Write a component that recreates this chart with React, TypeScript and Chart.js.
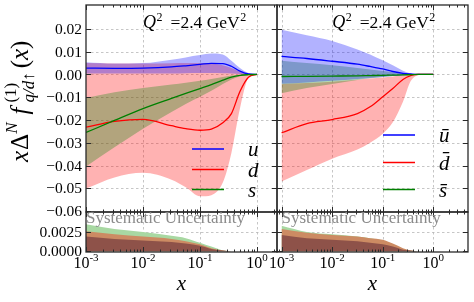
import React, { useEffect, useRef } from 'react';
import { Chart, registerables } from 'chart.js';

Chart.register(...registerables);

const SERIF = '"Liberation Serif", "DejaVu Serif", "Times New Roman", serif';
const W = 474;
const H = 302;

// ---------- data ----------
const X = [0.001, 0.00316, 0.01, 0.0316, 0.0562, 0.1, 0.158, 0.251, 0.355, 0.501, 0.708, 1.0];

// left panel: u, d, s (central value, upper and lower band)
const uMid = [0.0028, 0.0027, 0.0028, 0.0033, 0.0038, 0.0044, 0.0049, 0.0048, 0.0036, 0.0015, 0.0002, 0];
const uHi = [0.0054, 0.0048, 0.005, 0.0065, 0.0075, 0.0085, 0.0092, 0.0088, 0.006, 0.0028, 0.0006, 0];
const uLo = [0.0004, 0.0004, 0.0004, 0.0004, 0.0005, 0.0006, 0.0006, 0.0005, 0.0004, 0.0002, 0.0001, 0];
const dMid = [-0.0231, -0.0206, -0.0197, -0.0225, -0.0238, -0.0245, -0.024, -0.0212, -0.0172, -0.0075, -0.0012, 0];
const dHi = [0.005, 0.0048, 0.0048, 0.0049, 0.005, 0.005, 0.0048, 0.004, 0.0028, 0.0012, 0.0003, 0];
const dLo = [-0.0501, -0.0452, -0.0432, -0.0462, -0.0495, -0.0535, -0.053, -0.0475, -0.0345, -0.015, -0.0015, 0];
const sMid = [-0.0255, -0.0202, -0.015, -0.0105, -0.0083, -0.0062, -0.0045, -0.0025, -0.0012, -0.0004, -0.0001, 0];
const sHi = [-0.0103, -0.0078, -0.006, -0.0044, -0.0036, -0.0028, -0.002, -0.0011, -0.0005, -0.0002, 0, 0];
const sLo = [-0.0404, -0.032, -0.0238, -0.0165, -0.013, -0.0098, -0.0072, -0.0042, -0.0022, -0.0008, -0.0002, 0];

// right panel: ubar, dbar, sbar
const ubMid = [0.0079, 0.007, 0.0058, 0.0045, 0.0035, 0.0024, 0.0013, 0.0005, 0.0002, 0, 0, 0];
const ubHi = [0.0196, 0.0172, 0.0147, 0.011, 0.0088, 0.0062, 0.004, 0.0016, 0.0004, 0.0001, 0, 0];
const ubLo = [-0.0041, -0.0035, -0.0028, -0.002, -0.0016, -0.0011, -0.0007, -0.0003, -0.0001, 0, 0, 0];
const dbMid = [-0.0256, -0.0216, -0.0198, -0.0172, -0.0142, -0.0098, -0.0062, -0.0022, -0.0005, 0, 0, 0];
const dbHi = [-0.0042, -0.0038, -0.0032, -0.0023, -0.0018, -0.0013, -0.0009, -0.0004, -0.0001, 0, 0, 0];
const dbLo = [-0.047, -0.042, -0.037, -0.033, -0.03, -0.026, -0.021, -0.012, -0.003, -0.0003, 0, 0];
const sbMid = [-0.0009, -0.0008, -0.0007, -0.0006, -0.0005, -0.0004, -0.0003, -0.0002, -0.0001, 0, 0, 0];
const sbHi = [0.006, 0.005, 0.004, 0.0028, 0.0022, 0.0015, 0.001, 0.0004, 0.0001, 0, 0, 0];
const sbLo = [-0.0082, -0.006, -0.0042, -0.0024, -0.0017, -0.0011, -0.0007, -0.0003, -0.0001, 0, 0, 0];

// systematic uncertainty panels
const sysLs = [0.0035, 0.0029, 0.0025, 0.002, 0.0017, 0.0011, 0.0006, 0.0001, 0, 0, 0, 0];
const sysLd = [0.0026, 0.0022, 0.0019, 0.0016, 0.0013, 0.0009, 0.0004, 0.0001, 0, 0, 0, 0];
const sysLu = [0.0019, 0.0016, 0.0014, 0.0012, 0.001, 0.0007, 0.0003, 0.0001, 0, 0, 0, 0];
const sysRs = [0.0033, 0.0025, 0.0022, 0.0019, 0.0017, 0.0014, 0.0009, 0.0003, 0.0001, 0, 0, 0];
const sysRd = [0.0029, 0.0024, 0.0021, 0.0019, 0.0017, 0.0015, 0.001, 0.0004, 0.0001, 0, 0, 0];
const sysRu = [0.0021, 0.0017, 0.0015, 0.0013, 0.0011, 0.0009, 0.0006, 0.0002, 0.0001, 0, 0, 0];

// ticks / labels
const Y_MAIN_TICKS = [-0.06, -0.05, -0.04, -0.03, -0.02, -0.01, 0, 0.01, 0.02];
const Y_SYS_TICKS = [0, 0.0025];
const X_MAJOR = [1e-3, 1e-2, 1e-1, 1];
const X_EXP = ['-3', '-2', '-1', '0'];
const LEGEND_L = ['u', 'd', 's'];
const LEGEND_R = ['\u016B', 'd\u0304', 's\u0304'];
const COLORS = ['#0000ff', '#ff0000', '#008000'];
const BAND_COLORS = ['rgba(0,0,255,0.3)', 'rgba(255,0,0,0.3)', 'rgba(0,128,0,0.3)'];
const SYS_COLORS = ['#a8d8a2', '#cc8b63', '#8e5249'];
const Q2_TEXT = ['Q', '2', '=2.4 GeV', '2'];
const SYS_TEXT = 'Systematic Uncertainty';

const X_MINOR: number[] = [];
for (let e = -4; e <= 0; e++) for (let k = 2; k <= 9; k++) X_MINOR.push(k * Math.pow(10, e));

const pts = (ys: number[]) => X.map((x, i) => ({ x, y: ys[i] }));

type Area = { l: number; t: number; r: number; b: number };
const A_LM: Area = { l: 86, t: 5, r: 277, b: 212 };
const A_LB: Area = { l: 86, t: 212, r: 277, b: 252 };
const A_RM: Area = { l: 277, t: 5, r: 468, b: 212 };
const A_RB: Area = { l: 277, t: 212, r: 468, b: 252 };
const XR_L: [number, number] = [1e-3, Math.pow(10, 0.35)];
const XR_R: [number, number] = [Math.pow(10, -3.09), Math.pow(10, 0.685)];
const YR_MAIN: [number, number] = [-0.0604, 0.0305];
const YR_SYS: [number, number] = [-0.0001, 0.0051];

function band(hi: number[], lo: number[], color: string, order: number) {
  return [
    { data: pts(hi), fill: '+1', backgroundColor: color, borderColor: 'transparent', borderWidth: 0, pointRadius: 0, order },
    { data: pts(lo), fill: false, backgroundColor: 'transparent', borderColor: 'transparent', borderWidth: 0, pointRadius: 0, order },
  ];
}
function line(ys: number[], color: string, order: number) {
  return { data: pts(ys), fill: false, borderColor: color, borderWidth: 1.3, pointRadius: 0, order };
}
function sysFill(ys: number[], color: string, order: number) {
  return { data: pts(ys), fill: 'origin', backgroundColor: color, borderColor: 'transparent', borderWidth: 0, pointRadius: 0, order };
}

type DecorCfg = {
  yTicks: number[];
  yLabels?: (v: number) => string;
  xLabels?: boolean;
  extra?: (chart: any) => void;
};

function makeDecor(cfg: DecorCfg) {
  return {
    id: 'decor',
    beforeDatasetsDraw(chart: any) {
      const { ctx, chartArea: a, scales } = chart;
      const x = scales.x, y = scales.y;
      ctx.save();
      ctx.strokeStyle = '#b8b8b8';
      ctx.lineWidth = 0.8;
      ctx.setLineDash([2.5, 2.5]);
      for (const v of X_MAJOR) {
        const px = Math.round(x.getPixelForValue(v)) + 0.5;
        if (px > a.left + 1 && px < a.right - 1) {
          ctx.beginPath(); ctx.moveTo(px, a.top); ctx.lineTo(px, a.bottom); ctx.stroke();
        }
      }
      for (const v of cfg.yTicks) {
        const py = Math.round(y.getPixelForValue(v)) + 0.5;
        if (py > a.top + 1 && py < a.bottom - 1) {
          ctx.beginPath(); ctx.moveTo(a.left, py); ctx.lineTo(a.right, py); ctx.stroke();
        }
      }
      ctx.restore();
    },
    afterDatasetsDraw(chart: any) {
      const { ctx, chartArea: a, scales } = chart;
      const x = scales.x, y = scales.y;
      ctx.save();
      ctx.strokeStyle = '#2a2a2a';
      ctx.lineWidth = 1;
      const tick = (x1: number, y1: number, x2: number, y2: number) => {
        ctx.beginPath(); ctx.moveTo(x1, y1); ctx.lineTo(x2, y2); ctx.stroke();
      };
      for (const v of X_MAJOR) {
        const px = Math.round(x.getPixelForValue(v)) + 0.5;
        if (px >= a.left && px <= a.right) {
          tick(px, a.bottom, px, a.bottom - 5);
          tick(px, a.top, px, a.top + 5);
        }
      }
      for (const v of X_MINOR) {
        const px = Math.round(x.getPixelForValue(v)) + 0.5;
        if (px >= a.left && px <= a.right) {
          tick(px, a.bottom, px, a.bottom - 2.5);
          tick(px, a.top, px, a.top + 2.5);
        }
      }
      for (const v of cfg.yTicks) {
        const py = Math.round(y.getPixelForValue(v)) + 0.5;
        if (py >= a.top && py <= a.bottom) {
          tick(a.left, py, a.left + 5, py);
          tick(a.right, py, a.right - 5, py);
        }
      }
      ctx.lineWidth = 1.3;
      ctx.strokeRect(a.left, a.top, a.right - a.left, a.bottom - a.top);

      ctx.fillStyle = '#000';
      if (cfg.yLabels) {
        ctx.font = '15.5px ' + SERIF;
        ctx.textAlign = 'right';
        ctx.textBaseline = 'middle';
        for (const v of cfg.yTicks) {
          const py = y.getPixelForValue(v);
          ctx.fillText(cfg.yLabels(v), a.left - 4, py + 1);
        }
      }
      if (cfg.xLabels) {
        ctx.textBaseline = 'alphabetic';
        ctx.textAlign = 'left';
        X_MAJOR.forEach((v, i) => {
          const px = x.getPixelForValue(v);
          if (px < a.left - 1 || px > a.right + 1) return;
          ctx.font = '16px ' + SERIF;
          const wb = ctx.measureText('10').width;
          ctx.font = '11px ' + SERIF;
          const we = ctx.measureText(X_EXP[i]).width;
          const x0 = px - (wb + we) / 2;
          ctx.font = '16px ' + SERIF;
          ctx.fillText('10', x0, 268);
          ctx.font = '11px ' + SERIF;
          ctx.fillText(X_EXP[i], x0 + wb, 261);
        });
        ctx.font = 'italic 21px ' + SERIF;
        ctx.textAlign = 'center';
        ctx.fillText('x', (a.left + a.right) / 2, 290);
      }
      if (cfg.extra) cfg.extra(chart);
      ctx.restore();
    },
  };
}

function drawQ2(chart: any) {
  const { ctx, scales } = chart;
  let p = scales.x.getPixelForValue(0.01);
  const base = 28;
  ctx.save();
  ctx.fillStyle = '#000';
  ctx.textAlign = 'left';
  ctx.textBaseline = 'alphabetic';
  ctx.font = 'italic 18px ' + SERIF;
  ctx.fillText(Q2_TEXT[0], p, base);
  p += ctx.measureText(Q2_TEXT[0]).width + 0.5;
  ctx.font = '12px ' + SERIF;
  ctx.fillText(Q2_TEXT[1], p, base - 7.5);
  p += ctx.measureText(Q2_TEXT[1]).width + 8;
  ctx.font = '17.5px ' + SERIF;
  ctx.fillText(Q2_TEXT[2], p, base);
  p += ctx.measureText(Q2_TEXT[2]).width + 0.5;
  ctx.font = '12px ' + SERIF;
  ctx.fillText(Q2_TEXT[3], p, base - 7.5);
  ctx.restore();
}

function drawLegend(chart: any, labels: string[], ys: number[]) {
  const { ctx, chartArea: a } = chart;
  ctx.save();
  ctx.textAlign = 'left';
  ctx.textBaseline = 'alphabetic';
  labels.forEach((t, i) => {
    ctx.strokeStyle = COLORS[i];
    ctx.lineWidth = 1.5;
    ctx.beginPath();
    ctx.moveTo(a.right - 85, ys[i]);
    ctx.lineTo(a.right - 53, ys[i]);
    ctx.stroke();
    ctx.fillStyle = '#000';
    ctx.font = 'italic 21px ' + SERIF;
    ctx.fillText(t, a.right - 29, ys[i] + 7);
  });
  ctx.restore();
}

function drawYLabel(chart: any) {
  const { ctx } = chart;
  const big = 'italic 25px ' + SERIF;
  const bigUp = '25px ' + SERIF;
  const sm = '17px ' + SERIF;
  const smI = 'italic 17px ' + SERIF;
  ctx.save();
  ctx.fillStyle = '#000';
  ctx.textAlign = 'left';
  ctx.textBaseline = 'alphabetic';
  const w = (t: string, f: string) => { ctx.font = f; return ctx.measureText(t).width; };
  const wx = w('x', big), wD = w('\u0394', bigUp), wN = w('N', smI), wf = w('f', big);
  const wS = Math.max(w('(1)', sm), w('q/d\u2191', smI));
  const wP1 = w('(', bigUp);
  ctx.translate(28, 162);
  ctx.rotate(-Math.PI / 2);
  let p = 0;
  const put = (t: string, f: string, dy = 0) => { ctx.font = f; ctx.fillText(t, p, dy); };
  put('x', big); p += wx + 1;
  put('\u0394', bigUp); p += wD;
  put('N', smI, -11); p += wN + 8;
  put('f', big); p += wf + 5;
  put('(1)', sm, -12);
  put('q/d\u2191', smI, 6); p += wS + 4;
  put('(', bigUp); p += wP1;
  put('x', big); p += wx;
  put(')', bigUp);
  ctx.restore();
}

function drawSysText(chart: any) {
  const { ctx, scales } = chart;
  ctx.save();
  ctx.fillStyle = '#8a8a8a';
  ctx.font = '17px ' + SERIF;
  ctx.textAlign = 'left';
  ctx.textBaseline = 'alphabetic';
  ctx.fillText(SYS_TEXT, scales.x.getPixelForValue(1e-3), 223);
  ctx.restore();
}

const fmtMain = (v: number) => (v < -1e-9 ? '\u2212' : '') + Math.abs(v).toFixed(2);
const fmtSys = (v: number) => v.toFixed(4);

function config(area: Area, xr: [number, number], yr: [number, number], datasets: any[], decor: any) {
  return {
    type: 'line',
    data: { datasets },
    options: {
      responsive: false,
      animation: false,
      devicePixelRatio: 1,
      events: [],
      layout: { padding: { left: area.l, top: area.t, right: W - area.r, bottom: H - area.b } },
      scales: {
        x: { type: 'logarithmic', display: false, min: xr[0], max: xr[1] },
        y: { type: 'linear', display: false, min: yr[0], max: yr[1] },
      },
      elements: { line: { cubicInterpolationMode: 'monotone' }, point: { radius: 0 } },
      plugins: { legend: { display: false }, tooltip: { enabled: false } },
    },
    plugins: [decor],
  } as any;
}

export default function App() {
  const r1 = useRef<HTMLCanvasElement>(null);
  const r2 = useRef<HTMLCanvasElement>(null);
  const r3 = useRef<HTMLCanvasElement>(null);
  const r4 = useRef<HTMLCanvasElement>(null);

  useEffect(() => {
    const charts: Chart[] = [];
    const lm = config(A_LM, XR_L, YR_MAIN, [
      ...band(dHi, dLo, BAND_COLORS[1], 30),
      ...band(sHi, sLo, BAND_COLORS[2], 20),
      ...band(uHi, uLo, BAND_COLORS[0], 10),
      line(uMid, COLORS[0], 2),
      line(dMid, COLORS[1], 1),
      line(sMid, COLORS[2], 0),
    ], makeDecor({
      yTicks: Y_MAIN_TICKS, yLabels: fmtMain,
      extra: (c) => { drawQ2(c); drawLegend(c, LEGEND_L, [149, 169.5, 189.5]); drawYLabel(c); },
    }));
    const rm = config(A_RM, XR_R, YR_MAIN, [
      ...band(dbHi, dbLo, BAND_COLORS[1], 30),
      ...band(sbHi, sbLo, BAND_COLORS[2], 20),
      ...band(ubHi, ubLo, BAND_COLORS[0], 10),
      line(ubMid, COLORS[0], 2),
      line(dbMid, COLORS[1], 1),
      line(sbMid, COLORS[2], 0),
    ], makeDecor({
      yTicks: Y_MAIN_TICKS,
      extra: (c) => { drawQ2(c); drawLegend(c, LEGEND_R, [135, 162.5, 189.5]); },
    }));
    const lb = config(A_LB, XR_L, YR_SYS, [
      sysFill(sysLs, SYS_COLORS[0], 3),
      sysFill(sysLd, SYS_COLORS[1], 2),
      sysFill(sysLu, SYS_COLORS[2], 1),
    ], makeDecor({ yTicks: Y_SYS_TICKS, yLabels: fmtSys, xLabels: true, extra: drawSysText }));
    const rb = config(A_RB, XR_R, YR_SYS, [
      sysFill(sysRs, SYS_COLORS[0], 3),
      sysFill(sysRd, SYS_COLORS[1], 2),
      sysFill(sysRu, SYS_COLORS[2], 1),
    ], makeDecor({ yTicks: Y_SYS_TICKS, xLabels: true, extra: drawSysText }));
    charts.push(new Chart(r1.current as HTMLCanvasElement, lm));
    charts.push(new Chart(r2.current as HTMLCanvasElement, rm));
    charts.push(new Chart(r3.current as HTMLCanvasElement, lb));
    charts.push(new Chart(r4.current as HTMLCanvasElement, rb));
    return () => charts.forEach((c) => c.destroy());
  }, []);

  const cs: React.CSSProperties = { position: 'absolute', left: 0, top: 0, width: W, height: H };
  return (
    <div style={{ position: 'fixed', left: 0, top: 0, width: W, height: H, background: '#fff' }}>
      <canvas ref={r1} width={W} height={H} style={cs} />
      <canvas ref={r2} width={W} height={H} style={cs} />
      <canvas ref={r3} width={W} height={H} style={cs} />
      <canvas ref={r4} width={W} height={H} style={cs} />
    </div>
  );
}
